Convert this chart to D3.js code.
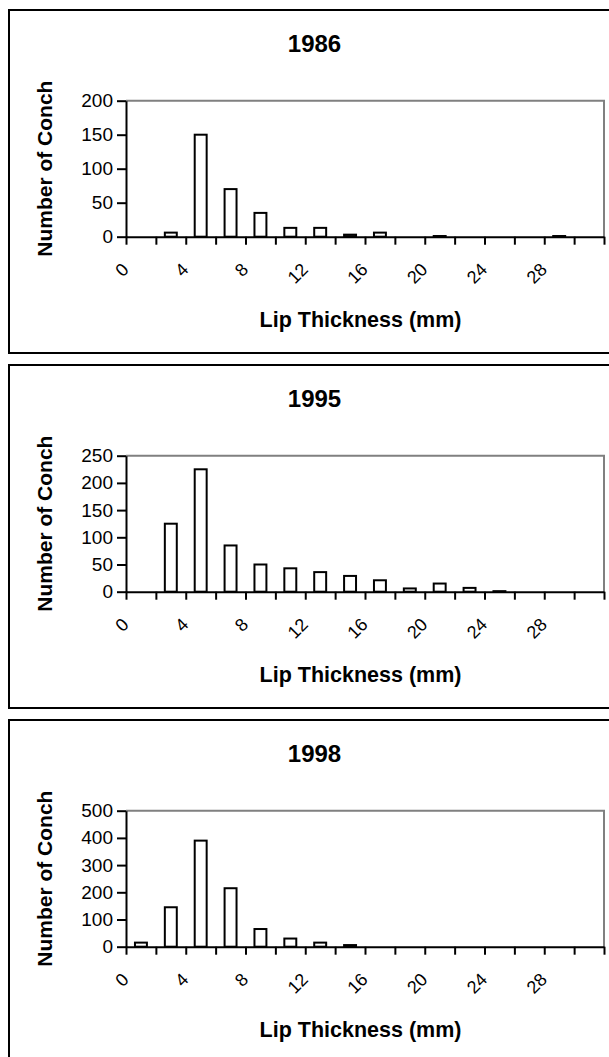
<!DOCTYPE html>
<html><head><meta charset="utf-8">
<script src="https://cdn.jsdelivr.net/npm/d3@7"></script>
<style>body{margin:0;background:#fff}svg{display:block}</style>
</head><body>
<script>
const categories = ["0","2","4","6","8","10","12","14","16","18","20","22","24","26","28","30"];
const tickLabels = ["0","4","8","12","16","20","24","28"];
const years = ["1986","1995","1998"];
const counts1986 = [0,6,150,70,35,13,13,3,6,0,1,0,0,0,1,0];
const counts1995 = [0,125,225,85,50,43,36,29,21,6,15,7,1,0,0,0];
const counts1998 = [15,145,390,215,65,30,15,6,0,0,0,0,0,0,0,0];
const yMaxes = [200,250,500];
const ySteps = [50,50,100];
const xTitle = "Lip Thickness (mm)";
const yTitle = "Number of Conch";

const seriesList = [counts1986, counts1995, counts1998];
const W = 609, H = 1057;
const FONT = "Arial, 'Liberation Sans', sans-serif";
const svg = d3.select("body").append("svg").attr("width", W).attr("height", H);

const panelStep = 355;
const plotL = 126, plotR = 604, plotT = 100.7, plotB = 236.7;

years.forEach((yr, i) => {
  const oy = i * panelStep;
  const g = svg.append("g").attr("transform", `translate(0,${oy})`);
  g.append("rect").attr("x", 9).attr("y", 10).attr("width", 640).attr("height", 343)
    .attr("fill", "#fff").attr("stroke", "#000").attr("stroke-width", 2);

  const x = d3.scaleBand().domain(categories).range([plotL, plotR]).paddingInner(0.6).paddingOuter(0.3);
  const xb = d3.scaleLinear().domain([0, categories.length]).range([plotL, plotR]);
  const y = d3.scaleLinear().domain([0, yMaxes[i]]).range([plotB, plotT]);

  // plot area border (gray top/right)
  g.append("path").attr("d", `M${plotL},${plotT}H${plotR}V${plotB}`)
    .attr("fill", "none").attr("stroke", "#808080").attr("stroke-width", 2);

  // bars
  g.selectAll("rect.bar").data(seriesList[i].map((v, k) => ({c: categories[k], v})).filter(d => d.v > 0))
    .join("rect").attr("class", "bar")
    .attr("x", d => x(d.c)).attr("width", x.bandwidth())
    .attr("y", d => y(d.v)).attr("height", d => plotB - y(d.v))
    .attr("fill", "#fff").attr("stroke", "#000").attr("stroke-width", 2);

  // y axis
  const ya = g.append("g").attr("transform", `translate(${plotL},0)`)
    .call(d3.axisLeft(y).tickValues(d3.range(0, yMaxes[i] + 1, ySteps[i])).tickSize(9).tickPadding(4).tickSizeOuter(0));
  ya.select(".domain").attr("stroke", "#000").attr("stroke-width", 2);
  ya.selectAll(".tick line").attr("stroke", "#000").attr("stroke-width", 2);
  ya.selectAll(".tick text").attr("font-family", FONT).attr("font-size", 19).attr("fill", "#000");

  // x axis (ticks at category boundaries)
  const xa = g.append("g").attr("transform", `translate(0,${plotB})`)
    .call(d3.axisBottom(xb).tickValues(d3.range(0, categories.length + 1)).tickSize(8).tickFormat("").tickSizeOuter(0));
  xa.select(".domain").attr("stroke", "#000").attr("stroke-width", 2);
  xa.selectAll(".tick line").attr("stroke", "#000").attr("stroke-width", 2);

  // rotated category labels (every other)
  g.selectAll("text.xl").data(categories.filter(c => tickLabels.includes(c)))
    .join("text").attr("class", "xl")
    .attr("transform", d => `translate(${x(d) + x.bandwidth() / 2 - 11},${plotB + 34}) rotate(-45)`)
    .attr("text-anchor", "end").attr("font-family", FONT).attr("font-size", 18).attr("fill", "#000")
    .text(d => d);

  // title
  g.append("text").attr("x", 314.5).attr("y", 52).attr("text-anchor", "middle")
    .attr("font-family", FONT).attr("font-weight", "bold").attr("font-size", 24).text(yr);

  // x title
  g.append("text").attr("x", 360.5).attr("y", 327).attr("text-anchor", "middle")
    .attr("font-family", FONT).attr("font-weight", "bold").attr("font-size", 21.5).text(xTitle);

  // y title
  g.append("text").attr("transform", `translate(52,${(plotT + plotB) / 2}) rotate(-90)`)
    .attr("text-anchor", "middle")
    .attr("font-family", FONT).attr("font-weight", "bold").attr("font-size", 21).text(yTitle);
});
</script>
</body></html>
